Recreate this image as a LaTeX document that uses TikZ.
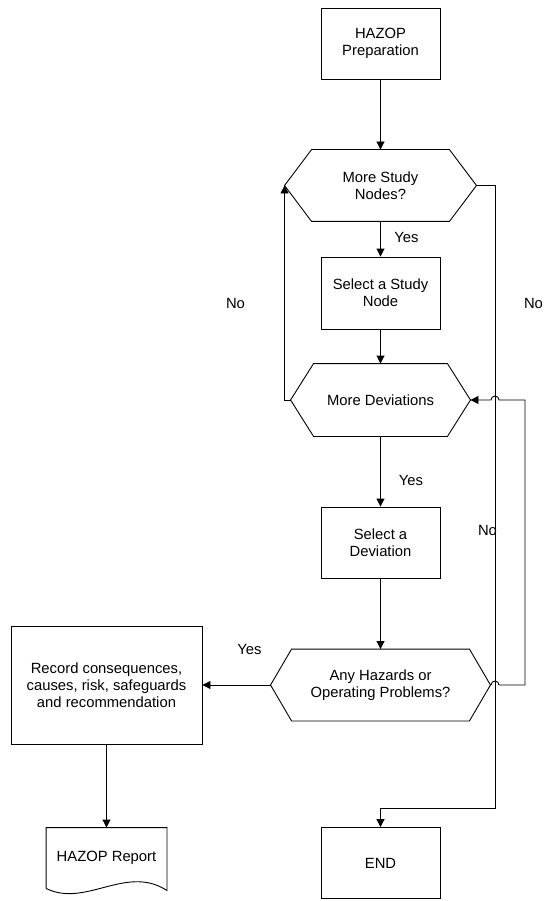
\documentclass[tikz,border=0pt]{standalone}
\usepackage{fontspec}
\setmainfont{Liberation Sans}
\usetikzlibrary{arrows.meta,calc}
\newcommand\myfs{\fontsize{14.8}{17}\selectfont}
\begin{document}
\begin{tikzpicture}[x=1pt,y=-1pt, line width=0.9pt,
  box/.style={draw, rectangle, minimum width=119pt, minimum height=71pt, align=center, inner sep=0pt, font=\myfs},
  hexnode/.style={rectangle, align=center, inner sep=0pt, font=\myfs},
  lbl/.style={font=\myfs, inner sep=0pt},
  arr/.style={-{Triangle[length=8pt,width=8pt]}}]
\fill[white] (0,0) rectangle (545,901);
\useasboundingbox (0,0) rectangle (545,901);

% nodes
\node[box] (prep) at (380.5,43.5) {HAZOP\\Preparation};
\node[hexnode, minimum width=191pt, minimum height=71pt] (h1) at (380.5,185.5) {More Study\\Nodes?};
\draw (h1.west) -- ([xshift=27pt]h1.north west) -- ([xshift=-27pt]h1.north east) -- (h1.east)
      -- ([xshift=-27pt]h1.south east) -- ([xshift=27pt]h1.south west) -- cycle;
\node[box, minimum height=72pt] (sel1) at (380.5,293) {Select a Study\\Node};
\node[hexnode, minimum width=179pt, minimum height=72pt] (h2) at (380.5,400) {More Deviations};
\draw (h2.west) -- ([xshift=23pt]h2.north west) -- ([xshift=-23pt]h2.north east) -- (h2.east)
      -- ([xshift=-23pt]h2.south east) -- ([xshift=23pt]h2.south west) -- cycle;
\node[box] (sel2) at (380.5,542.5) {Select a\\Deviation};
\node[hexnode, minimum width=219pt, minimum height=71pt] (h3) at (380.5,685) {Any Hazards or\\Operating Problems?};
\draw (h3.west) -- ([xshift=21pt]h3.north west) -- ([xshift=-21pt]h3.north east) -- (h3.east)
      -- ([xshift=-21pt]h3.south east) -- ([xshift=21pt]h3.south west) -- cycle;
\node[box, minimum width=191pt, minimum height=118pt] (rec) at (106.5,685) {Record consequences,\\causes, risk, safeguards\\and recommendation};
\node[box] (end) at (380.5,863) {END};
\node[hexnode, minimum width=120pt, minimum height=60pt] (rep) at (106.5,858) {\raisebox{3pt}{HAZOP Report}};
\draw (rep.south west) -- (rep.north west) -- (rep.north east) -- ([yshift=-2pt]rep.south east)
      .. controls (126,864) and (86,908) .. (rep.south west);

% labels
\node[lbl] (yes1) at (406.5,237) {Yes};
\node[lbl] (yes2) at (411,480) {Yes};
\node[lbl] (yes3) at (249.5,649) {Yes};
\node[lbl] (no1) at (235.5,303) {No};
\node[lbl] (no2) at (533.5,303) {No};
\node[lbl] (no3) at (487.5,530) {No};

% connectors
\coordinate (c1) at (495,808);
\draw[arr] (prep) -- (h1);
\draw[arr] (h1) -- (sel1);
\draw[arr] (sel1) -- (h2);
\draw[arr] (h2) -- (sel2);
\draw[arr] (sel2) -- (h3);
\draw[arr] (h3.west) -- (rec.east);
\draw[arr] (rec) -- (rep);
\draw[arr] (h2.west) -| (h1.west);
\draw[arr] (h1.east) -| (c1) -| (end.north);
\draw[arr] (h3.east) -- (491,685) arc[start angle=180,end angle=0,radius=4pt] -- (525,685)
      -- (525,400) -- (499,400) arc[start angle=0,end angle=180,radius=4pt] -- (h2.east);
\end{tikzpicture}
\end{document}
